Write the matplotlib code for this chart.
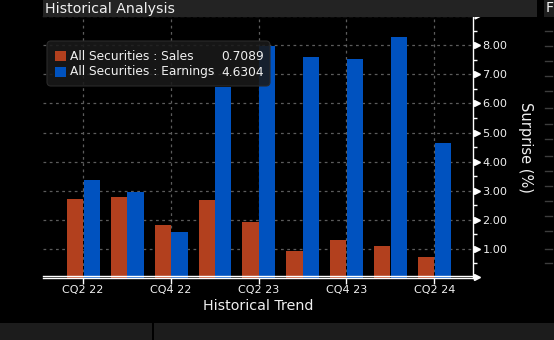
import matplotlib
matplotlib.use('Agg')
import matplotlib.pyplot as plt
from matplotlib.patches import Rectangle, FancyBboxPatch
from matplotlib.lines import Line2D
from matplotlib.transforms import IdentityTransform, blended_transform_factory, ScaledTranslation
import numpy as np

# ---- data ----
quarters = ['CQ2 22', 'CQ3 22', 'CQ4 22', 'CQ1 23', 'CQ2 23', 'CQ3 23', 'CQ4 23', 'CQ1 24', 'CQ2 24']
sales = [2.71, 2.78, 1.82, 2.68, 1.92, 0.92, 1.30, 1.09, 0.7089]
earnings = [3.37, 2.96, 1.58, 6.58, 7.97, 7.61, 7.52, 8.28, 4.6304]
series_names = ['All Securities : Sales', 'All Securities : Earnings']
legend_values = ['0.7089', '4.6304']
ytick_values = [1, 2, 3, 4, 5, 6, 7, 8]
ytick_labels = ['1.00', '2.00', '3.00', '4.00', '5.00', '6.00', '7.00', '8.00']
title = 'Historical Analysis'
xlabel = 'Historical Trend'
ylabel = 'Surprise (%)'

ORANGE = '#b2401e'
BLUE = '#0052bf'
TXT = '#f0f0f0'
GRID = '#5c5c5c'

W, H = 554, 340
fig = plt.figure(figsize=(W / 100, H / 100), dpi=100, facecolor='black')
plt.rcParams['font.family'] = ['DejaVu Sans']
PX = IdentityTransform()


def P(x, y):
    return (x, H - y)


def fx(x):
    return x / W


def fy(y):
    return 1 - y / H


L, R, T, B = 43.2, 473.3, 16.3, 277.8
ax = fig.add_axes([fx(L), fy(B), fx(R) - fx(L), fy(T) - fy(B)], facecolor='black')

x = np.arange(len(quarters))
w = 0.37
ax.bar(x - w / 2, sales, w, color=ORANGE, linewidth=0, zorder=2)
ax.bar(x + w / 2 + 0.01, earnings, w, color=BLUE, linewidth=0, zorder=2)

ax.set_xlim(-0.91, 8.89)
ax.set_ylim(0, 9)

# grid
for yv in ytick_values:
    ax.axhline(yv, color=GRID, lw=0.9, ls=(0, (2.2, 2.8)), zorder=1)
major_x = x[::2]
for xv in major_x:
    ax.axvline(xv, color=GRID, lw=0.9, ls=(0, (2.2, 2.8)), zorder=1)

ax.spines['left'].set_visible(False)
ax.spines['top'].set_color(GRID)
ax.spines['top'].set_linestyle((0, (2.2, 2.8)))
ax.spines['top'].set_linewidth(0.9)
ax.spines['right'].set_color('white')
ax.spines['right'].set_linewidth(1.0)
ax.spines['bottom'].set_color('white')
ax.spines['bottom'].set_linewidth(1.0)

# x ticks
ax.set_xticks(major_x)
ax.set_xticklabels([quarters[i] for i in major_x], color=TXT, fontsize=8.0)
ax.tick_params(axis='x', colors='white', length=4, width=1, direction='out', pad=1.5, labelcolor=TXT)

# y ticks on right
ax.yaxis.set_ticks_position('right')
ax.set_yticks(ytick_values)
ax.set_yticklabels(ytick_labels, fontsize=8.1, color=TXT)
ax.set_yticks(np.arange(0.5, 9, 1.0), minor=True)
ax.tick_params(axis='y', which='major', length=0, pad=6.5, labelcolor=TXT)
ax.tick_params(axis='y', which='minor', length=3, width=1, color='white', direction='out')

# triangle tick markers on the right spine
tri = blended_transform_factory(ax.transAxes, ax.transData) + ScaledTranslation(3.5 / 100, 0, fig.dpi_scale_trans)
ax.plot([1.0] * len(ytick_values), ytick_values, ls='none', marker='>', ms=4.2, color='white',
        transform=tri, clip_on=False, zorder=5)
ax.plot([1.0], [9], ls='none', marker='>', ms=3.5, color='white', transform=tri, clip_on=False, zorder=5)

# second baseline line + arrow
fig.add_artist(Line2D([L, R], [H - 276.0, H - 276.0], transform=PX, color='white', lw=1.0))
fig.add_artist(Line2D([R + 4], [H - 277], transform=PX, marker='>', ms=4.5, color='white', ls='none'))

# labels
fig.text(fx(258), fy(306.5), xlabel, color=TXT, fontsize=10.3, ha='center', va='center')
fig.text(fx(525), fy(147), ylabel, color=TXT, fontsize=10.5, ha='center', va='center', rotation=270)

# title bar
fig.add_artist(Rectangle(P(43, 17), 537 - 43, 17, transform=PX, facecolor='#232323', edgecolor='none'))
fig.text(fx(45), fy(8.5), title, color=TXT, fontsize=10.2, ha='left', va='center')
fig.add_artist(Rectangle(P(544, 17), 10, 17, transform=PX, facecolor='#1e1e1e', edgecolor='none'))
fig.text(fx(546), fy(8.5), 'F', color=TXT, fontsize=10.2, ha='left', va='center')

# right panel ticks
for yy in [31, 46, 61, 76, 91, 108, 124, 139, 156, 171, 186, 201, 216, 231, 249, 263]:
    fig.add_artist(Line2D([545, 552], [H - yy, H - yy], transform=PX, color='#3c3c3c', lw=1))

# bottom bars
fig.add_artist(Rectangle(P(0, 340), 152, 17, transform=PX, facecolor='#1c1c1c', edgecolor='none'))
fig.add_artist(Rectangle(P(154, 340), 400, 17, transform=PX, facecolor='#1c1c1c', edgecolor='none'))

# legend
fig.add_artist(FancyBboxPatch(P(47, 86), 270 - 47, 86 - 41, boxstyle='round,pad=0,rounding_size=4',
                              transform=PX, facecolor=(0.1, 0.1, 0.1, 0.88), edgecolor='#2a2a2a', lw=0.8))
colors = [ORANGE, BLUE]
for i, (name, val, c) in enumerate(zip(series_names, legend_values, colors)):
    yc = 56 + i * 16
    fig.add_artist(Rectangle(P(55, yc + 5), 11, 10, transform=PX, facecolor=c, edgecolor='none'))
    fig.text(fx(70.5), fy(yc), name, color=TXT, fontsize=8.8, ha='left', va='center')
    fig.text(fx(263.5), fy(yc), val, color=TXT, fontsize=8.8, ha='right', va='center')

fig.savefig('out.png', dpi=100, facecolor='black')
